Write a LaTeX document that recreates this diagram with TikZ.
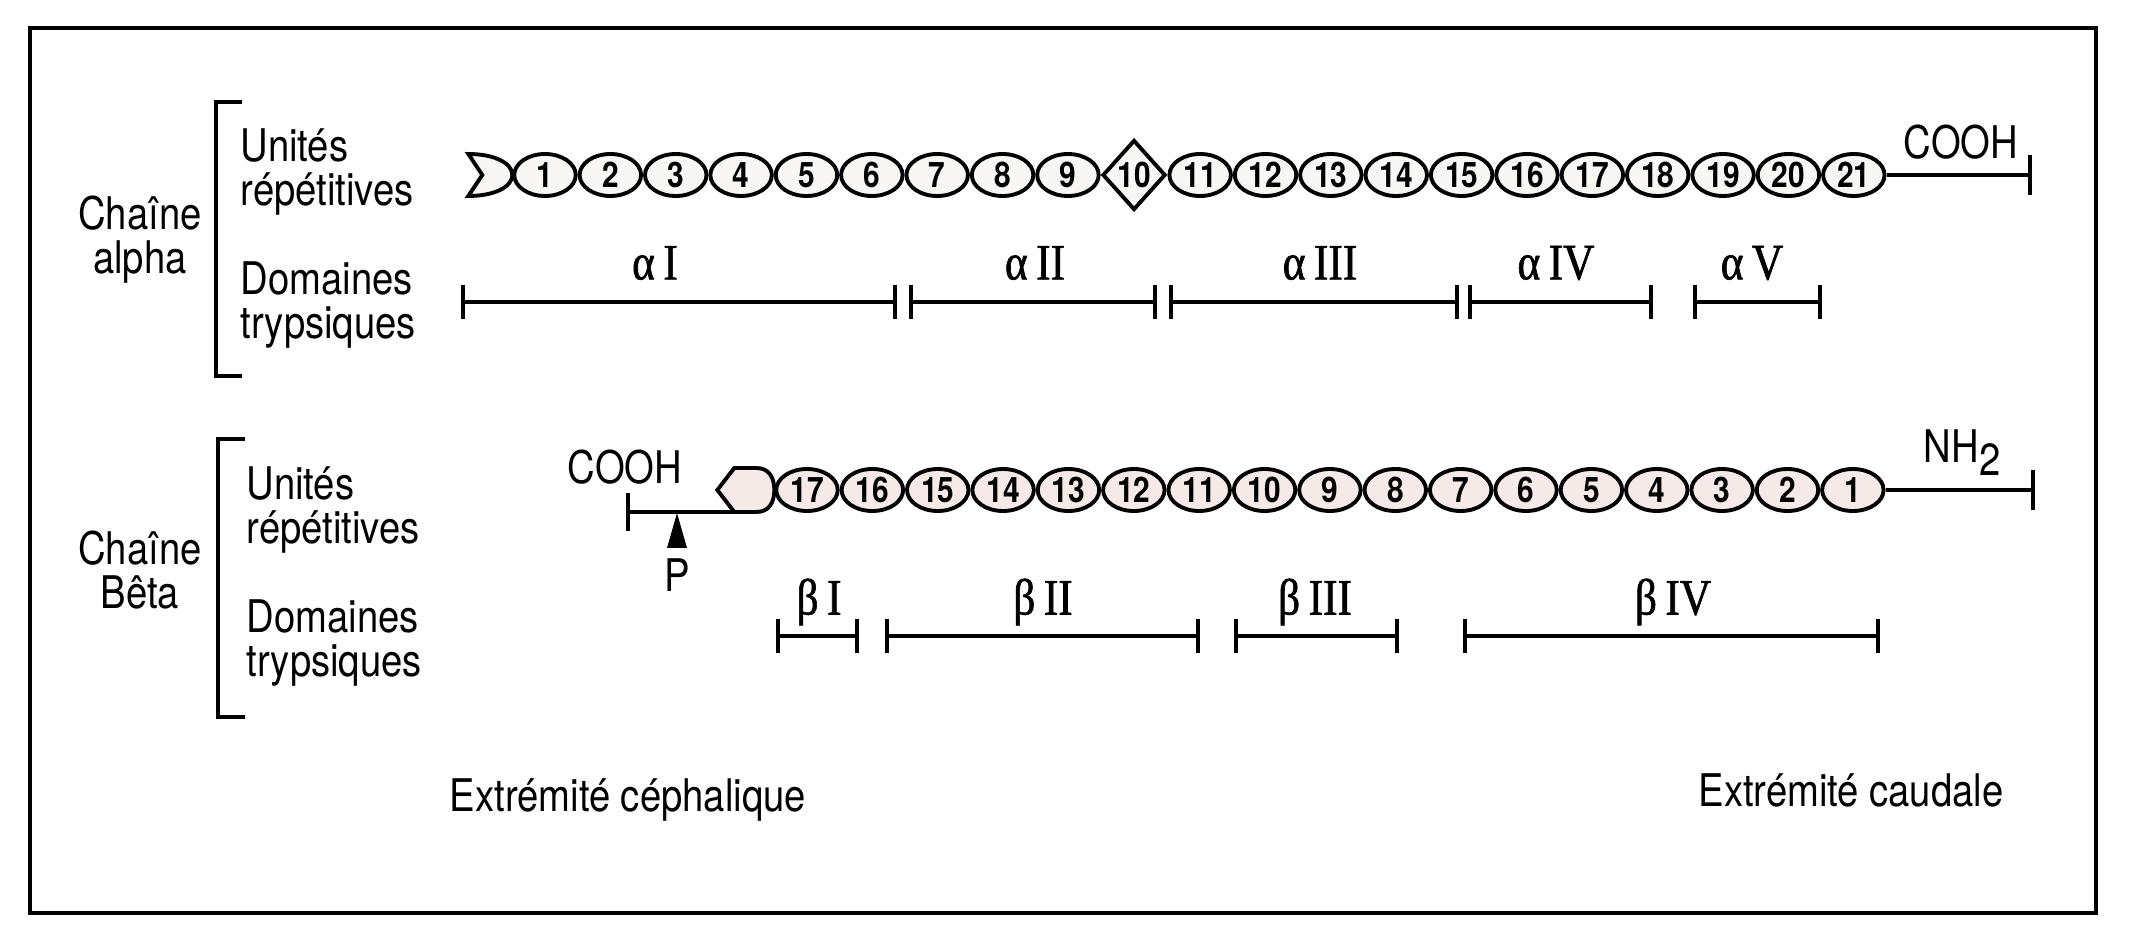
\documentclass[tikz,border=0pt]{standalone}
\usepackage{fontspec}
\setmainfont{TeX Gyre Heros}[FakeStretch=0.85]
\newfontfamily\grkfont{Liberation Serif}[FakeStretch=0.85, FakeBold=1.2]
\usepackage{tikz}
\usetikzlibrary{calc, arrows.meta, positioning, shapes.geometric}
\definecolor{alphafill}{RGB}{248,247,244}
\definecolor{betafill}{RGB}{245,234,231}

\begin{document}
\begin{tikzpicture}[x=0.1mm, y=-0.1mm,
    every node/.style={font=\fontsize{12.8}{12.5}\selectfont},
    lab/.style={align=center, inner sep=0pt},
    sidelab/.style={align=left, anchor=west, inner sep=0pt},
    unit/.style={draw, ellipse, line width=1.1pt, minimum width=6.15mm,
                 minimum height=4.2mm, inner sep=0pt,
                 font=\fontsize{10}{10}\selectfont\bfseries},
    aunit/.style={unit, fill=alphafill},
    bunit/.style={unit, fill=betafill},
    chain/.style={line width=1.1pt},
    dom/.style={line width=1.1pt, {Bar[width=3.4mm]}-{Bar[width=3.4mm]}},
    domlab/.style={font=\grkfont\fontsize{14.5}{14.5}\selectfont, inner sep=0pt},
    brack/.style={line width=1pt},
  ]

  \useasboundingbox (0,0) rectangle (2132,944);
  \draw[line width=1pt] (30,28) rectangle (2096,913);

  % Chaine alpha
  \node[lab] (achain) at (140,240) {Chaîne\\alpha};
  \draw[brack] (242,102) -- (216,102) -- (216,376) -- (242,376);
  \node[sidelab] (aunits) at (240,172) {Unités\\répétitives};
  \node[sidelab] (adoms) at (240,305) {Domaines\\trypsiques};

  \node[aunit] (a1) at (545,175) {1};
  \foreach \i [remember=\i as \j (initially 1)] in {2,...,21}{
    \ifnum\i=10
      \node[aunit, diamond, minimum width=6.3mm, minimum height=7mm,
            right=0pt of a\j] (a\i) {\i};
    \else
      \node[aunit, right=0pt of a\j] (a\i) {\i};
    \fi
  }
  \draw[chain, fill=alphafill] ($(a1.west)+(-44,-21)$)
    .. controls ($(a1.west)+(-18,-21)$) and ($(a1.west)+(0,-12)$) .. (a1.west)
    .. controls ($(a1.west)+(0,12)$) and ($(a1.west)+(-18,21)$) .. ($(a1.west)+(-44,21)$)
    -- ($(a1.west)+(-30,0)$) -- cycle;

  \coordinate (aend) at (2032,175);
  \draw[chain, -{Bar[width=4mm]}] (a21.east) -- (aend);
  \node[lab] (acooh) at (1961,142) {COOH};

  \foreach \n/\xa/\xb/\xl/\t in {aI/461/897/655/I, aII/909/1157/1035/II,
      aIII/1169/1459/1320/III, aIV/1468/1653/1556/IV, aV/1693/1822/1752/V}{
    \coordinate (\n-s) at (\xa,302);
    \coordinate (\n-e) at (\xb,302);
    \draw[dom] (\n-s) -- (\n-e);
    \node[domlab] (\n) at (\xl,263) {α\,\t};
  }

  % Chaine beta
  \node[lab] (bchain) at (140,570) {Chaîne\\Bêta};
  \draw[brack] (245,439) -- (218,439) -- (218,717) -- (245,717);
  \node[sidelab] (bunits) at (246,510) {Unités\\répétitives};
  \node[sidelab] (bdoms) at (246,643) {Domaines\\trypsiques};

  \node[bunit] (b17) at (807,490) {17};
  \foreach \i [remember=\i as \j (initially 17)] in {16,15,...,1}{
    \node[bunit, right=0pt of b\j] (b\i) {\i};
  }
  \coordinate (hx) at (b17.west);
  \draw[chain, fill=betafill] ($(hx)+(-57,0)$) -- ($(hx)+(-40,-22)$) -- ($(hx)+(-18,-22)$)
    .. controls ($(hx)+(-5,-22)$) and ($(hx)+(0,-12)$) .. (hx)
    .. controls ($(hx)+(0,12)$) and ($(hx)+(-5,22)$) .. ($(hx)+(-18,22)$)
    -- ($(hx)+(-40,22)$) -- cycle;
  \coordinate (hxb) at ($(hx)+(-40,22)$);
  \coordinate (bstart) at (626,512);
  \draw[chain, {Bar[width=3.8mm]}-] (bstart) -- (hxb);
  \node[lab] (bcooh) at (625,467) {COOH};
  \fill (677,513) -- (667,548) -- (687,548) -- cycle;
  \node[lab] (pmark) at (677,575) {P};

  \coordinate (bend) at (2035,490);
  \draw[chain, -{Bar[width=4mm]}] (b1.east) -- (bend);
  \node[lab] (nh) at (1962,453) {NH\raisebox{-0.55ex}{2}};

  \foreach \n/\xa/\xb/\xl/\t in {bI/776/859/819/I, bII/885/1200/1043/II,
      bIII/1234/1399/1315/III, bIV/1463/1880/1673/IV}{
    \coordinate (\n-s) at (\xa,636);
    \coordinate (\n-e) at (\xb,636);
    \draw[dom] (\n-s) -- (\n-e);
    \node[domlab] (\n) at (\xl,602) {β\,\t};
  }

  % Extremites
  \node[lab] (ceph) at (628,800) {Extrémité céphalique};
  \node[lab] (caud) at (1851,790) {Extrémité caudale};
\end{tikzpicture}
\end{document}
